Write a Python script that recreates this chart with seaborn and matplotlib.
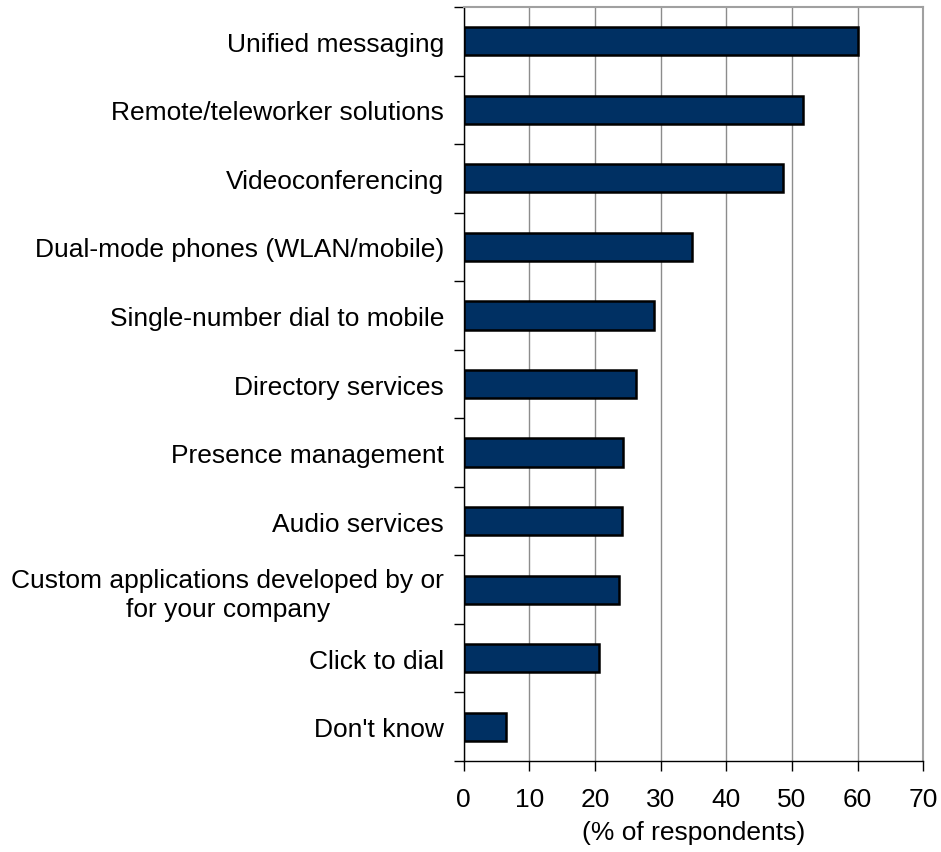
import matplotlib
matplotlib.use("Agg")
import matplotlib.pyplot as plt
import seaborn as sns
import pandas as pd
import numpy as np
from matplotlib.ticker import FixedLocator

categories = [
    "Unified messaging",
    "Remote/teleworker solutions",
    "Videoconferencing",
    "Dual-mode phones (WLAN/mobile)",
    "Single-number dial to mobile",
    "Directory services",
    "Presence management",
    "Audio services",
    "Custom applications developed by or\nfor your company",
    "Click to dial",
    "Don't know",
]
values = [60.1, 51.7, 48.6, 34.8, 29.0, 26.2, 24.3, 24.1, 23.6, 20.6, 6.4]
x_ticks = [0, 10, 20, 30, 40, 50, 60, 70]
x_label = "(% of respondents)"

sns.set_style("white")
plt.rcParams["font.family"] = ["Liberation Sans", "DejaVu Sans"]
plt.rcParams["text.color"] = "black"
plt.rcParams["xtick.color"] = "black"
plt.rcParams["ytick.color"] = "black"
plt.rcParams["axes.labelcolor"] = "black"

df = pd.DataFrame({"cat": categories, "val": values})

fig = plt.figure(figsize=(9.41, 8.53), dpi=100)
ax = fig.add_axes([0.4926, 0.1067, 0.9812 - 0.4926, 0.9906 - 0.1067])

sns.barplot(data=df, x="val", y="cat", orient="h", color="#003063",
            saturation=1, width=0.41, edgecolor="black", linewidth=1.8, ax=ax,
            zorder=3)

FS = 19
ax.set_xlim(0, 70)
ax.set_ylim(len(categories) - 0.5, -0.5)
ax.set_xticks(x_ticks)
ax.set_xticklabels([str(t) for t in x_ticks], fontsize=FS)
ax.xaxis.grid(True, color="#8c8c8c", linewidth=1.0, zorder=0)
ax.set_axisbelow(True)

ax.set_yticks(range(len(categories)))
ax.set_yticklabels(categories, fontsize=FS, multialignment="center", linespacing=1.25)
ax.tick_params(axis="y", which="major", length=0, pad=14)
ax.yaxis.set_minor_locator(FixedLocator(np.arange(-0.5, len(categories), 1.0)))
ax.tick_params(axis="y", which="minor", length=7, width=1, color="black", direction="out", left=True)
ax.tick_params(axis="x", which="major", length=7, width=1, color="black", direction="out", pad=12, bottom=True)

for s in ["left", "bottom"]:
    ax.spines[s].set_color("black")
    ax.spines[s].set_linewidth(1.0)
for s in ["right", "top"]:
    ax.spines[s].set_color("#a0a0a0")
    ax.spines[s].set_linewidth(1.5)

ax.set_xlabel(x_label, fontsize=FS, labelpad=6)
ax.set_ylabel("")

fig.savefig("out.png", dpi=100)
